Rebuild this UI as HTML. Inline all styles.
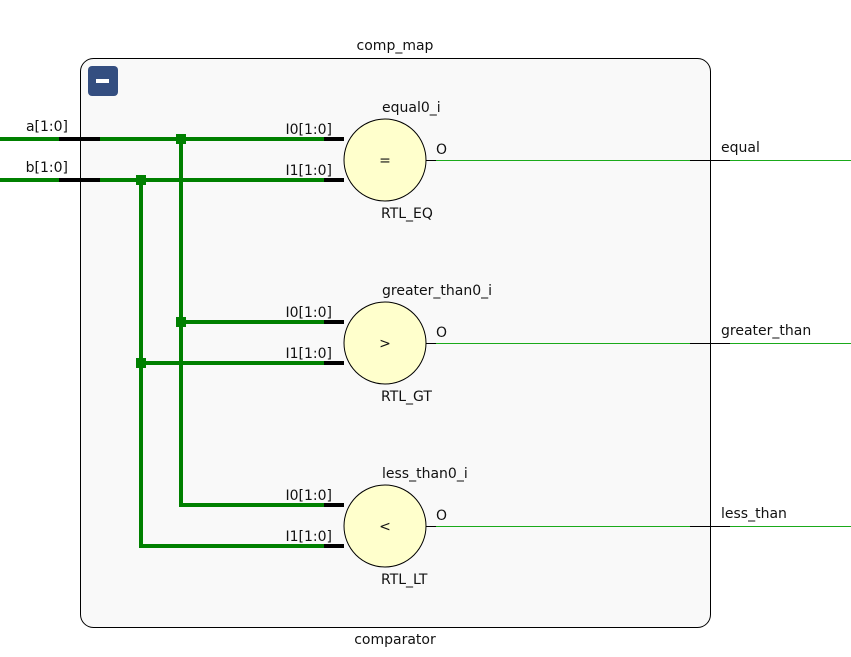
<!DOCTYPE html>
<html><head><style>html,body{margin:0;padding:0;background:#fff}svg{display:block}text{font-family:"DejaVu Sans","Liberation Sans",sans-serif;font-size:14px;fill:#111}</style></head><body>
<svg width="851" height="657" viewBox="0 0 851 657" xmlns="http://www.w3.org/2000/svg">
<rect x="80.5" y="58.5" width="630" height="569" rx="13" fill="#f9f9f9" stroke="#000" stroke-width="1"/>
<rect x="88" y="66" width="30" height="30" rx="4" fill="#344e80"/>
<rect x="96" y="79" width="13" height="4" fill="#fff"/>
<text x="395" y="50" text-anchor="middle">comp_map</text>
<text x="395" y="644" text-anchor="middle">comparator</text>
<g stroke="#008000" stroke-width="4" fill="none">
<line x1="0" y1="139" x2="324" y2="139"/>
<line x1="0" y1="180" x2="324" y2="180"/>
<polyline points="181,139 181,505 324,505"/>
<polyline points="141,180 141,546 324,546"/>
<line x1="181" y1="322" x2="324" y2="322"/>
<line x1="141" y1="363" x2="324" y2="363"/>
</g>
<g stroke="#000" stroke-width="4">
<line x1="59" y1="139" x2="100" y2="139"/>
<line x1="59" y1="180" x2="100" y2="180"/>
<line x1="324" y1="139" x2="344" y2="139"/><line x1="324" y1="180" x2="344" y2="180"/>
<line x1="324" y1="322" x2="344" y2="322"/><line x1="324" y1="363" x2="344" y2="363"/>
<line x1="324" y1="505" x2="344" y2="505"/><line x1="324" y1="546" x2="344" y2="546"/>
</g>
<g fill="#008000">
<rect x="176" y="134" width="10" height="10"/><rect x="136" y="175" width="10" height="10"/>
<rect x="176" y="317" width="10" height="10"/><rect x="136" y="358" width="10" height="10"/>
</g>
<text x="68" y="131" text-anchor="end">a[1:0]</text>
<text x="68" y="172" text-anchor="end">b[1:0]</text>
<g stroke="#000" stroke-width="1" fill="#ffffcc">
<circle cx="385" cy="160" r="41"/><circle cx="385" cy="343" r="41"/><circle cx="385" cy="526" r="41"/>
</g>
<g stroke="#000" stroke-width="1">
<line x1="426" y1="160.5" x2="436" y2="160.5"/><line x1="690" y1="160.5" x2="730" y2="160.5"/>
<line x1="426" y1="343.5" x2="436" y2="343.5"/><line x1="690" y1="343.5" x2="730" y2="343.5"/>
<line x1="426" y1="526.5" x2="436" y2="526.5"/><line x1="690" y1="526.5" x2="730" y2="526.5"/>
</g>
<g stroke="#1aaa1a" stroke-width="1">
<line x1="436" y1="160.5" x2="690" y2="160.5"/><line x1="730" y1="160.5" x2="851" y2="160.5"/>
<line x1="436" y1="343.5" x2="690" y2="343.5"/><line x1="730" y1="343.5" x2="851" y2="343.5"/>
<line x1="436" y1="526.5" x2="690" y2="526.5"/><line x1="730" y1="526.5" x2="851" y2="526.5"/>
</g>
<text x="332" y="134" text-anchor="end">I0[1:0]</text><text x="332" y="175" text-anchor="end">I1[1:0]</text>
<text x="332" y="317" text-anchor="end">I0[1:0]</text><text x="332" y="358" text-anchor="end">I1[1:0]</text>
<text x="332" y="500" text-anchor="end">I0[1:0]</text><text x="332" y="541" text-anchor="end">I1[1:0]</text>
<text x="382" y="112">equal0_i</text><text x="382" y="295">greater_than0_i</text><text x="382" y="478">less_than0_i</text>
<text x="381" y="218">RTL_EQ</text><text x="381" y="401">RTL_GT</text><text x="381" y="584">RTL_LT</text>
<text x="385" y="165" text-anchor="middle">=</text><text x="385" y="348" text-anchor="middle">&gt;</text><text x="385" y="531" text-anchor="middle">&lt;</text>
<text x="436" y="154">O</text><text x="436" y="337">O</text><text x="436" y="520">O</text>
<text x="721" y="152">equal</text><text x="721" y="335">greater_than</text><text x="721" y="518">less_than</text>
</svg>
</body></html>
